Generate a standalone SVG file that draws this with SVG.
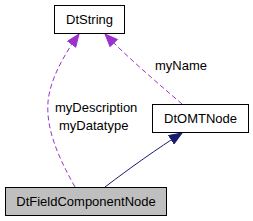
<svg xmlns="http://www.w3.org/2000/svg" width="253" height="221" viewBox="0 0 253 221">
<style>
.box{fill:#ffffff;stroke:#000000;stroke-width:1}
.cur{fill:#bfbfbf;stroke:#000000;stroke-width:1}
text{font-family:"Liberation Sans",Arial,sans-serif;font-size:13px;fill:#000000}
.c{text-anchor:middle}
.dash{fill:none;stroke:#9a32cd;stroke-width:1;stroke-dasharray:5,3}
.solid{fill:none;stroke:#191970;stroke-width:1}
</style>
<defs>
<marker id="ap" markerWidth="14" markerHeight="11" refX="13" refY="5.5" orient="auto" markerUnits="userSpaceOnUse">
<path d="M0.5,0.5 L13,5.5 L0.5,10.5 Z" fill="#9a32cd" stroke="#9a32cd"/>
</marker>
<marker id="an" markerWidth="14" markerHeight="11" refX="13" refY="5.5" orient="auto" markerUnits="userSpaceOnUse">
<path d="M0.5,0.5 L13,5.5 L0.5,10.5 Z" fill="#191970" stroke="#191970"/>
</marker>
</defs>
<g id="connectors">
<path class="dash" d="M75,187 C57,155 46,128 48,102 C50,78 66,52 79,34" marker-end="url(#ap)"/>
<path class="dash" d="M182,104 C160,85 128,58 105,34" marker-end="url(#ap)"/>
<path class="solid" d="M105,187 C130,168 158,148 182,133" marker-end="url(#an)"/>
<text x="155" y="70">myName</text>
<text x="55" y="112">myDescription</text>
<text x="59" y="130">myDatatype</text>
</g>
<g id="DtString">
<rect class="box" x="54.5" y="5.5" width="70" height="28"/>
<text class="c" x="89.5" y="23.5">DtString</text>
</g>
<g id="DtOMTNode">
<rect class="box" x="152.5" y="104.5" width="96" height="28"/>
<text class="c" x="200.5" y="123">DtOMTNode</text>
</g>
<g id="DtFieldComponentNode">
<rect class="cur" x="5.5" y="187.5" width="161" height="28"/>
<text class="c" x="86" y="206">DtFieldComponentNode</text>
</g>
</svg>
